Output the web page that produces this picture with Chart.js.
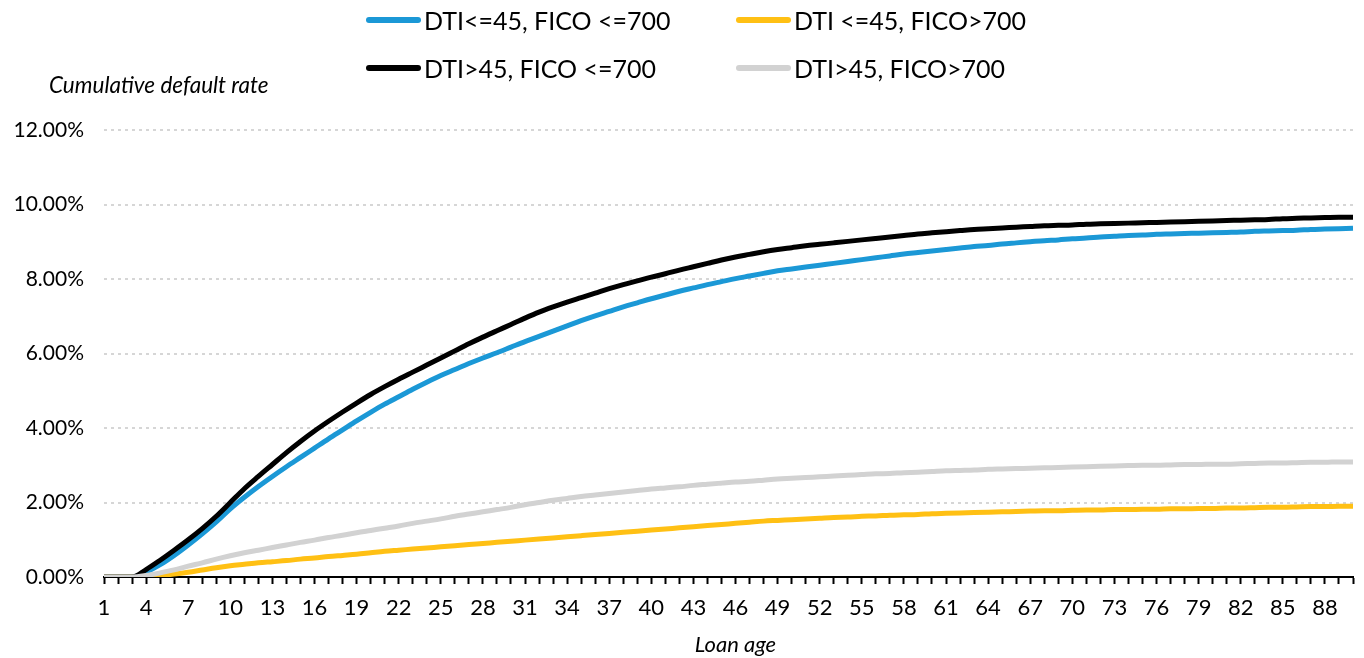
<!DOCTYPE html>
<html>
<head>
<meta charset="utf-8">
<script src="https://cdn.jsdelivr.net/npm/chart.js@4/dist/chart.umd.min.js"></script>
<style>
  body { margin: 0; background: #fff; font-family: Lato, sans-serif; }
  #wrap { position: relative; width: 1364px; height: 658px; }
  #legend { position: absolute; left: 0; top: 0; width: 1364px; height: 100px; }
  .item { position: absolute; display: flex; align-items: center; font-size: 25px; line-height: 30px; color: #000; white-space: nowrap; }
  .swatch { display: inline-block; width: 55px; height: 6px; border-radius: 3px; margin-right: 3px; }
</style>
</head>
<body>
<div id="wrap">
  <canvas id="chart"></canvas>
  <div id="legend"></div>
</div>
<script>
const ages = [1, 2, 3, 4, 5, 6, 7, 8, 9, 10, 11, 12, 13, 14, 15, 16, 17, 18, 19, 20,
  21, 22, 23, 24, 25, 26, 27, 28, 29, 30, 31, 32, 33, 34, 35, 36, 37, 38, 39, 40,
  41, 42, 43, 44, 45, 46, 47, 48, 49, 50, 51, 52, 53, 54, 55, 56, 57, 58, 59, 60,
  61, 62, 63, 64, 65, 66, 67, 68, 69, 70, 71, 72, 73, 74, 75, 76, 77, 78, 79, 80,
  81, 82, 83, 84, 85, 86, 87, 88, 89, 90];

const series_names = ['DTI<=45, FICO <=700', 'DTI <=45, FICO>700', 'DTI>45, FICO <=700', 'DTI>45, FICO>700'];

// cumulative default rate, in %
const low_dti_low_fico = [0, 0, 0, 0.13, 0.33, 0.58, 0.86, 1.16, 1.48, 1.83,
  2.14, 2.43, 2.7, 2.96, 3.21, 3.46, 3.71, 3.95, 4.19, 4.42,
  4.64, 4.84, 5.04, 5.23, 5.41, 5.57, 5.73, 5.88, 6.02, 6.17,
  6.32, 6.46, 6.6, 6.74, 6.88, 7.01, 7.13, 7.25, 7.36, 7.47,
  7.57, 7.67, 7.76, 7.85, 7.93, 8.01, 8.08, 8.15, 8.22, 8.27,
  8.32, 8.37, 8.42, 8.47, 8.52, 8.57, 8.62, 8.67, 8.71, 8.75,
  8.79, 8.83, 8.87, 8.9, 8.94, 8.97, 9.0, 9.03, 9.05, 9.08,
  9.1, 9.13, 9.15, 9.17, 9.18, 9.2, 9.21, 9.22, 9.23, 9.24,
  9.25, 9.26, 9.28, 9.29, 9.3, 9.31, 9.33, 9.34, 9.35, 9.36];

const low_dti_high_fico = [0, 0, 0, 0.01, 0.04, 0.08, 0.13, 0.19, 0.25, 0.3,
  0.34, 0.38, 0.41, 0.44, 0.48, 0.51, 0.55, 0.58, 0.61, 0.65,
  0.69, 0.72, 0.75, 0.78, 0.81, 0.84, 0.87, 0.9, 0.93, 0.96,
  0.99, 1.02, 1.05, 1.08, 1.11, 1.14, 1.17, 1.2, 1.23, 1.26,
  1.29, 1.32, 1.35, 1.38, 1.41, 1.44, 1.47, 1.5, 1.52, 1.54,
  1.56, 1.58, 1.6, 1.61, 1.63, 1.64, 1.66, 1.67, 1.68, 1.7,
  1.71, 1.72, 1.73, 1.74, 1.75, 1.76, 1.77, 1.78, 1.78, 1.79,
  1.8, 1.8, 1.81, 1.81, 1.82, 1.82, 1.83, 1.83, 1.84, 1.84,
  1.85, 1.85, 1.86, 1.87, 1.87, 1.88, 1.89, 1.89, 1.9, 1.9];

const high_dti_low_fico = [0, 0, 0, 0.2, 0.45, 0.72, 1.0, 1.3, 1.63, 2.0,
  2.37, 2.7, 3.02, 3.34, 3.64, 3.92, 4.18, 4.43, 4.67, 4.9,
  5.11, 5.31, 5.5, 5.69, 5.88, 6.07, 6.26, 6.44, 6.61, 6.78,
  6.95, 7.11, 7.25, 7.38, 7.5, 7.62, 7.74, 7.85, 7.95, 8.05,
  8.14, 8.24, 8.33, 8.42, 8.51, 8.59, 8.66, 8.73, 8.79, 8.84,
  8.89, 8.93, 8.97, 9.01, 9.05, 9.09, 9.13, 9.17, 9.21, 9.24,
  9.27, 9.3, 9.33, 9.35, 9.37, 9.39, 9.41, 9.43, 9.44, 9.45,
  9.47, 9.48, 9.49, 9.5, 9.51, 9.52, 9.53, 9.54, 9.55, 9.56,
  9.57, 9.58, 9.59, 9.6, 9.62, 9.63, 9.64, 9.65, 9.66, 9.66];

const high_dti_high_fico = [0, 0, 0, 0.04, 0.11, 0.19, 0.29, 0.38, 0.48, 0.57,
  0.65, 0.72, 0.79, 0.86, 0.93, 0.99, 1.06, 1.12, 1.19, 1.25,
  1.31, 1.37, 1.44, 1.5, 1.56, 1.63, 1.69, 1.75, 1.81, 1.87,
  1.94, 2.0, 2.06, 2.11, 2.16, 2.2, 2.24, 2.28, 2.32, 2.36,
  2.39, 2.42, 2.46, 2.49, 2.52, 2.55, 2.57, 2.6, 2.63, 2.65,
  2.67, 2.69, 2.71, 2.73, 2.75, 2.77, 2.78, 2.8, 2.81, 2.83,
  2.85, 2.86, 2.87, 2.89, 2.9, 2.91, 2.92, 2.93, 2.94, 2.95,
  2.96, 2.97, 2.98, 2.99, 3.0, 3.0, 3.01, 3.02, 3.02, 3.03,
  3.03, 3.04, 3.05, 3.06, 3.06, 3.07, 3.08, 3.08, 3.09, 3.09];

const colors = ['rgb(27, 152, 214)', 'rgb(255, 192, 20)', 'rgb(0, 0, 0)', 'rgb(210, 210, 210)'];
const values = [low_dti_low_fico, low_dti_high_fico, high_dti_low_fico, high_dti_high_fico];
// excel draws the last series on top
const draw_order = [4, 3, 2, 1];

// legend, two items per row like the original
const legend_pos = [[366, 20], [736, 20], [366, 68], [736, 68]];
const legend = document.getElementById('legend');
series_names.forEach((name, i) => {
    const item = document.createElement('div');
    item.className = 'item';
    item.style.left = legend_pos[i][0] + 'px';
    item.style.top = (legend_pos[i][1] - 15) + 'px';
    const sw = document.createElement('span');
    sw.className = 'swatch';
    sw.style.background = colors[i];
    item.appendChild(sw);
    item.appendChild(document.createTextNode(name));
    legend.appendChild(item);
});

// both axis titles are drawn by hand: the y one sits flat above the axis
const axisTitles = {
    id: 'axisTitles',
    afterDraw(chart) {
        const ctx = chart.ctx;
        const area = chart.chartArea;
        ctx.save();
        ctx.fillStyle = '#000';
        ctx.textBaseline = 'middle';
        ctx.font = 'italic 22.5px Lato';
        ctx.textAlign = 'left';
        ctx.fillText('Cumulative default rate', area.left - 55, area.top - 44);
        ctx.font = 'italic 22px Lato';
        ctx.textAlign = 'center';
        ctx.fillText('Loan age', (area.left + area.right) / 2 + 7, area.bottom + 68);
        ctx.restore();
    }
};

new Chart(document.getElementById('chart'), {
    type: 'line',
    data: {
        labels: ages,
        datasets: series_names.map((name, i) => ({
            label: name,
            data: values[i],
            borderColor: colors[i],
            backgroundColor: colors[i],
            borderWidth: 5,
            pointRadius: 0,
            cubicInterpolationMode: 'monotone',
            order: draw_order[i],
            fill: false
        }))
    },
    options: {
        responsive: true,
        maintainAspectRatio: false,
        animation: false,
        layout: {
            padding: { top: 130, left: 0, right: 0, bottom: 0 }
        },
        plugins: {
            legend: { display: false },
            tooltip: { enabled: false }
        },
        scales: {
            x: {
                offset: false,
                afterFit: (scale) => { scale.height = 81; },
                grid: {
                    display: true,
                    drawOnChartArea: false,
                    drawTicks: true,
                    tickLength: 7,
                    tickWidth: 2,
                    tickColor: '#000'
                },
                border: { display: true, color: '#000', width: 2 },
                ticks: {
                    autoSkip: false,
                    maxRotation: 0,
                    padding: 11,
                    color: '#000',
                    font: { family: 'Lato', size: 22 },
                    callback: function(value, index) {
                        return index % 3 === 0 ? this.getLabelForValue(value) : '';
                    }
                }
            },
            y: {
                min: 0,
                max: 12,
                afterFit: (scale) => { scale.width = 104; },
                grid: {
                    color: 'rgb(214, 214, 214)',
                    lineWidth: 2,
                    drawTicks: false
                },
                border: { display: false, dash: [3, 4] },
                ticks: {
                    stepSize: 2,
                    padding: 20,
                    color: '#000',
                    font: { family: 'Lato', size: 21 },
                    callback: v => v.toFixed(2) + '%'
                }
            }
        }
    },
    plugins: [axisTitles]
});
</script>
</body>
</html>
